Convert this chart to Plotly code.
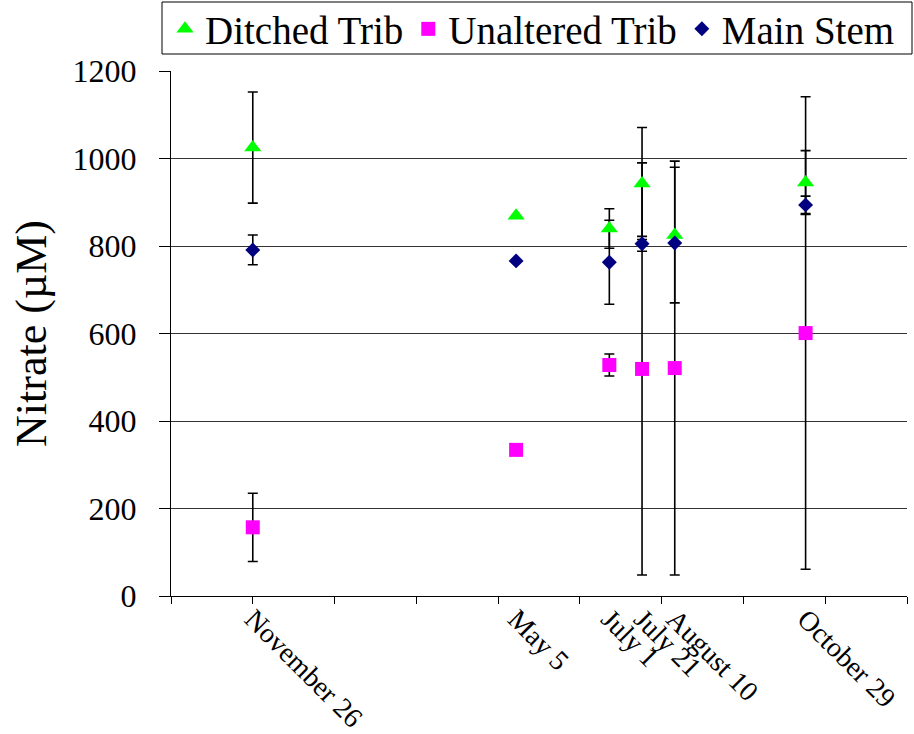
import plotly.graph_objects as go
import pandas as pd

dates = ["2003-11-26", "2004-05-05", "2004-07-01", "2004-07-21", "2004-08-10", "2004-10-29"]
date_labels = ["November 26", "May 5", "July 1", "July 21", "August 10", "October 29"]

ditched = [1025, 869, 840, 943, 825, 945]
ditched_err = [127, 0, 45, 128, 155, 73]
unaltered = [157, 334, 528, 519, 521, 601]
unaltered_err = [78, 0, 25, 471, 473, 540]
main_stem = [791, 766, 763, 805, 807, 894]
main_stem_err = [34, 0, 96, 17, 0, 20]

y_ticks = [0, 200, 400, 600, 800, 1000, 1200]

FONT = "Liberation Serif"
start = pd.Timestamp(dates[0])
x_min = start - pd.Timedelta(days=50)
x_max = start + pd.Timedelta(days=400)
DAY_MS = 86400000

series = [
    ("Ditched Trib", ditched, ditched_err, "triangle-up", "#00FF00", 15),
    ("Unaltered Trib", unaltered, unaltered_err, "square", "#FF00FF", 14),
    ("Main Stem", main_stem, main_stem_err, "diamond", "#000080", 11.5),
]

fig = go.Figure()
# error bars first so markers sit on top
for name, vals, errs, sym, col, sz in series:
    fig.add_trace(go.Scatter(
        x=dates, y=vals, mode="markers", showlegend=False, hoverinfo="skip",
        marker=dict(color="rgba(0,0,0,0)", size=1),
        error_y=dict(type="data", array=errs, visible=True, color="black",
                     thickness=1.6, width=5),
    ))
for name, vals, errs, sym, col, sz in series:
    fig.add_trace(go.Scatter(
        x=dates, y=vals, mode="markers", name=name,
        marker=dict(symbol=sym, color=col, size=sz, line=dict(width=0)),
    ))
# invisible trace to carry the label axis
fig.add_trace(go.Scatter(x=dates, y=main_stem, xaxis="x2", mode="markers",
                         marker=dict(color="rgba(0,0,0,0)", size=1),
                         showlegend=False, hoverinfo="skip"))

# plot area in pixels: x 171..907, y 71..596
PW, PH = 736, 525
def px_x(p):
    return (p - 171) / PW
def px_y(p):
    return (596 - p) / PH

fig.add_shape(type="rect", xref="paper", yref="paper",
              x0=px_x(162), x1=px_x(912), y0=px_y(54), y1=px_y(2),
              line=dict(color="black", width=1), fillcolor="rgba(0,0,0,0)",
              layer="above")

fig.update_layout(
    width=914, height=734,
    margin=dict(l=171, r=7, t=71, b=138, autoexpand=False),
    paper_bgcolor="white", plot_bgcolor="white",
    font=dict(family=FONT, color="black"),
    showlegend=True,
    legend=dict(orientation="h", x=px_x(165), y=px_y(29), xanchor="left",
                yanchor="middle",
                font=dict(size=39, family=FONT, color="black"),
                borderwidth=0, bgcolor="rgba(0,0,0,0)",
                itemsizing="trace", tracegroupgap=0),
    xaxis=dict(type="date", range=[x_min, x_max], tick0=x_min, dtick=50 * DAY_MS,
               showticklabels=False, ticks="outside", ticklen=7, tickcolor="black",
               showline=True, linecolor="black", linewidth=1, showgrid=False,
               zeroline=False, automargin=False),
    xaxis2=dict(type="date", range=[x_min, x_max], overlaying="x", side="bottom",
                tickvals=dates, ticktext=date_labels, tickangle=45, ticks="",
                tickfont=dict(size=28, family=FONT, color="black"), showline=False,
                showgrid=False, zeroline=False, ticklabelstandoff=0,
                automargin=False),
    yaxis=dict(range=[0, 1200], tickvals=y_ticks, ticks="outside", ticklen=11,
               tickcolor="black", tickfont=dict(size=32, family=FONT, color="black"),
               showline=True, linecolor="black", linewidth=1,
               showgrid=True, gridcolor="#333333", gridwidth=1, zeroline=False,
               ticklabelstandoff=16, automargin=False,
               title=dict(text="Nitrate (µM)", font=dict(size=44, family=FONT),
                          standoff=12)),
)

fig.write_html("out.html")
